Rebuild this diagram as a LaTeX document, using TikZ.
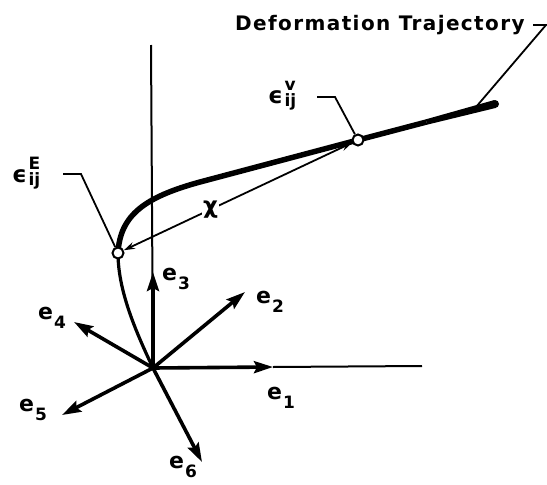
\documentclass[tikz,border=0pt]{standalone}
\usepackage{fontspec}
\setmainfont{DejaVu Sans}
\newfontfamily\labfont{DejaVu Sans Bold}
\newfontfamily\trajfont[LetterSpace=7]{DejaVu Sans Bold}
\usetikzlibrary{arrows.meta,calc}
\newcommand\sfn{\fontsize{17}{17}\selectfont}
\newcommand\vlab[1]{e\kern1pt\raisebox{-9pt}{\sfn #1}}
\newcommand\strain[1]{ϵ\kern1.5pt\rlap{\raisebox{13pt}{\sfn #1}}\raisebox{-3pt}{\sfn ij}}
\begin{document}
\begin{tikzpicture}[x=1pt,y=-1pt,
  axisline/.style={line width=2pt},
  vec/.style={line width=3.6pt,-{Stealth[length=19pt,width=12pt,inset=3pt]}},
  trajhi/.style={line width=5.5pt},
  trajlo/.style={line width=3.2pt},
  statept/.style={circle,draw,fill=white,line width=2pt,minimum size=11pt,inner sep=0pt},
  leader/.style={line width=1.8pt},
  chiarrow/.style={line width=1.8pt,{Stealth[length=11pt,width=7pt]}-{Stealth[length=11pt,width=7pt]}},
  elabel/.style={font=\labfont\fontsize{22}{26}\selectfont,inner sep=0pt},
  slabel/.style={font=\labfont\fontsize{23}{26}\selectfont,inner sep=0pt,anchor=base west},
  tlabel/.style={font=\trajfont\fontsize{20}{24}\selectfont,inner sep=0pt,anchor=base west}]
\useasboundingbox (0,0) rectangle (547,485);
% key points
\coordinate (O) at (153,368);
\coordinate (top) at (151,45);
\coordinate (xend) at (422,366);
\coordinate (t1) at (273,367);
\coordinate (t2) at (245,292);
\coordinate (t3) at (153,272);
\coordinate (t4) at (74,322);
\coordinate (t5) at (62,415);
\coordinate (t6) at (202,462);
\coordinate (Epos) at (118,253);
\coordinate (Vpos) at (358,140);
\coordinate (Tend) at (495,104);
\coordinate (bend) at (200,182);
\coordinate (tp) at (476,107);
% axes
\draw[axisline] (top) -- (O);
\draw[axisline] (t1) -- (xend);
% trajectory
\draw[trajlo] (O) .. controls (135,330) and (118,290) .. (Epos);
\draw[trajhi] (Epos) .. controls (120,215) and (145,197) .. (bend) -- (Vpos) -- (426.5,122);
\fill (427.2,124.66) -- (496.02,107.87) -- (493.98,100.13) -- (425.8,119.34) -- cycle;
\fill (Tend) circle[radius=4pt];
% vectors
\foreach \t in {t1,t2,t3,t4,t5,t6} \draw[vec] (O) -- (\t);
% state points
\node[statept] (E) at (Epos) {};
\node[statept] (V) at (Vpos) {};
% chi arrow
\draw[chiarrow] (E) -- (V) node[pos=0.38,fill=white,font=\labfont\fontsize{23}{26}\selectfont,inner sep=1pt] (chi) {χ};
% vector labels
\node[elabel] (l1) at (281,398) {\vlab{1}};
\node[elabel] (l2) at (270,302) {\vlab{2}};
\node[elabel] (l3) at (176,279) {\vlab{3}};
\node[elabel] (l4) at (52,318) {\vlab{4}};
\node[elabel] (l5) at (33,410) {\vlab{5}};
\node[elabel] (l6) at (183,467) {\vlab{6}};
% strain labels and leaders
\node[slabel] (sv) at (268,103) {\strain{v}};
\node[slabel] (se) at (12,182) {\strain{E}};
\coordinate (sva) at (317,97);
\coordinate (svb) at (335,97);
\coordinate (sea) at (63,174);
\coordinate (seb) at (81,174);
\draw[leader] (sva) -- (svb) -- (V);
\draw[leader] (sea) -- (seb) -- (E);
% trajectory label
\node[tlabel] (tl) at (235,30) {Deformation Trajectory};
\coordinate (tla) at (533,25);
\coordinate (tlb) at (546,25);
\draw[leader] (tla) -- (tlb) -- (tp);
\end{tikzpicture}
\end{document}
